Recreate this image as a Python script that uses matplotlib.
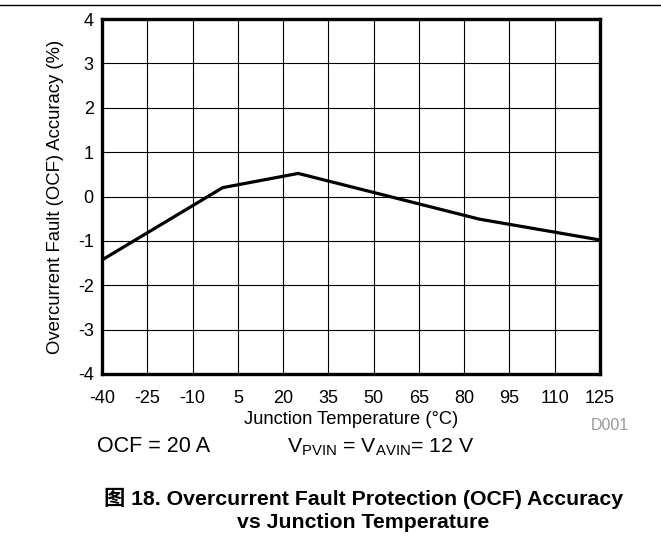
import matplotlib
matplotlib.use("Agg")
import matplotlib.pyplot as plt
from matplotlib.lines import Line2D

plt.rcParams['font.family'] = ['Liberation Sans', 'Noto Sans CJK SC', 'DejaVu Sans']
plt.rcParams['mathtext.fontset'] = 'custom'
plt.rcParams['mathtext.rm'] = 'Liberation Sans'
plt.rcParams['mathtext.it'] = 'Liberation Sans:italic'
plt.rcParams['mathtext.bf'] = 'Liberation Sans:bold'

temperature = [-40, 0, 25, 85, 125]
accuracy = [-1.43, 0.2, 0.52, -0.51, -0.98]
xticks = [-40, -25, -10, 5, 20, 35, 50, 65, 80, 95, 110, 125]
yticks = [-4, -3, -2, -1, 0, 1, 2, 3, 4]

W, H = 661, 540
fig = plt.figure(figsize=(W / 100, H / 100), dpi=100)
ax = fig.add_axes([102 / W, 1 - 374 / H, (600 - 102) / W, (374 - 19) / H])

ax.plot(temperature, accuracy, color='black', linewidth=2.3, solid_joinstyle='miter', zorder=3)
ax.set_xlim(-40, 125)
ax.set_ylim(-4, 4)
ax.set_xticks(xticks)
ax.set_yticks(yticks)
ax.set_xticklabels([str(t) for t in xticks])
ax.set_yticklabels([str(t) for t in yticks])
ax.tick_params(length=0, labelsize=13)
ax.tick_params(axis='x', pad=11.5)
ax.tick_params(axis='y', pad=6)
ax.grid(True, color='black', linewidth=0.8)
for s in ax.spines.values():
    s.set_linewidth(2.4)
ax.set_xlabel('Junction Temperature (°C)', fontsize=13.2, labelpad=3)
ax.set_ylabel('Overcurrent Fault (OCF) Accuracy (%)', fontsize=13.3, labelpad=10)

fig.add_artist(Line2D([0, 1], [1 - 5 / H, 1 - 5 / H], color='black', linewidth=1))
fig.text(629 / W, 1 - 426 / H, 'D001', fontsize=11.5, color='#999999', ha='right', va='center')
fig.text(97 / W, 1 - 447 / H, 'OCF = 20 A', fontsize=15.5, ha='left', va='center')
fig.text(287 / W, 1 - 447 / H, r'V$_{\mathrm{PVIN}}$ = V$_{\mathrm{AVIN}}$= 12 V', fontsize=15.3,
         ha='left', va='center')
fig.text(364 / W, 1 - 498 / H, '图 18. Overcurrent Fault Protection (OCF) Accuracy', fontsize=15.3,
         fontweight='bold', ha='center', va='center')
fig.text(363 / W, 1 - 523 / H, 'vs Junction Temperature', fontsize=15.3,
         fontweight='bold', ha='center', va='center')

fig.savefig('out.png', dpi=100)
